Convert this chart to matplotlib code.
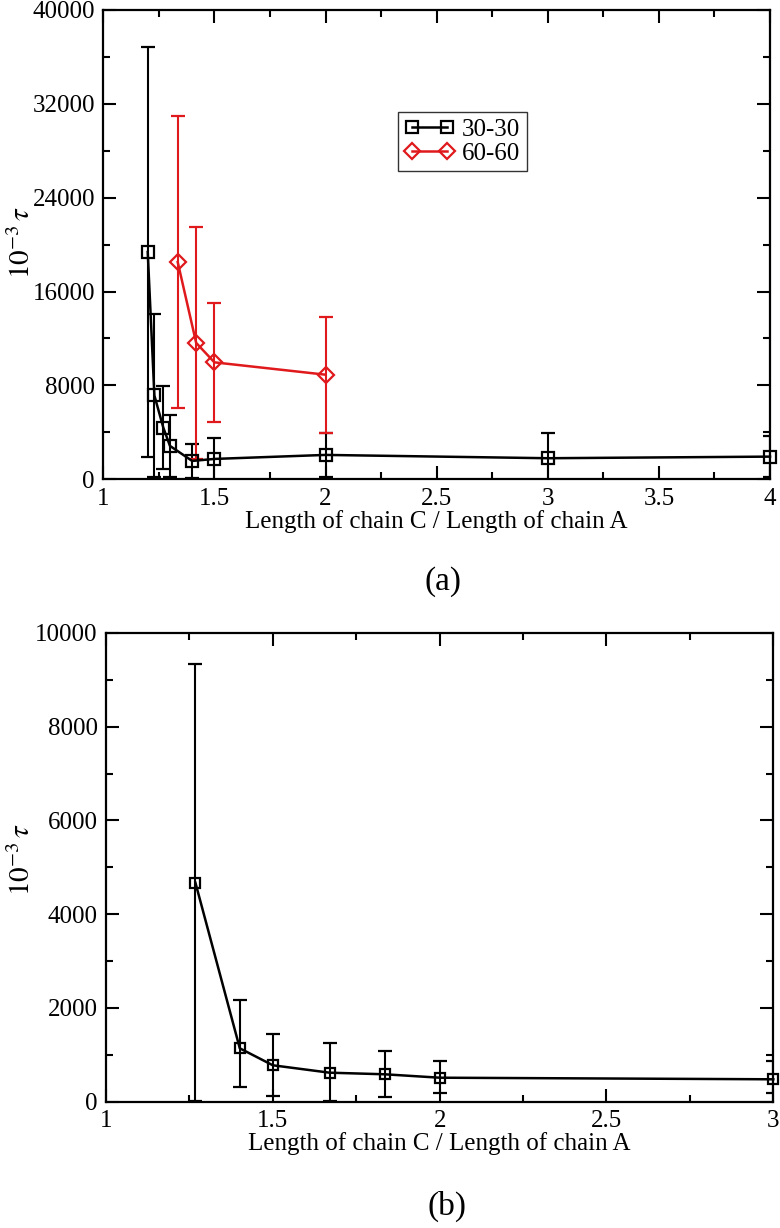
import matplotlib
matplotlib.use("Agg")
import matplotlib.pyplot as plt
from matplotlib.ticker import MultipleLocator, FuncFormatter
from matplotlib.lines import Line2D

# ---------------- data ----------------
# panel (a)
x_a_3030 = [1.2, 1.23, 1.27, 1.3, 1.4, 1.5, 2.0, 3.0, 4.0]
y_a_3030 = [19370, 7145, 4410, 2846, 1564, 1735, 2077, 1795, 1932]
e_a_3030 = [17480, 6965, 3550, 2620, 1430, 1770, 1855, 2137, 1770]

x_a_6060 = [1.335, 1.418, 1.5, 2.0]
y_a_6060 = [18510, 11625, 9966, 8915]
e_a_6060 = [12460, 9900, 5060, 4957]

# panel (b)
x_b = [1.268, 1.401, 1.5, 1.67, 1.835, 2.0, 3.0]
y_b = [4672, 1139, 777, 619, 585, 512, 478]
e_b_low = [4660, 832, 655, 600, 491, 333, 300]
e_b_up = [4660, 1037, 674, 627, 497, 356, 397]

legend_labels = ["30-30", "60-60"]
xlabel = "Length of chain C / Length of chain A"
ylabel = r"$10^{-3}\,\tau$"

# ---------------- style ----------------
plt.rcParams["font.family"] = ["Liberation Serif", "DejaVu Serif"]
plt.rcParams["mathtext.fontset"] = "stix"
RED = "#e0191c"
FS = 18

fig = plt.figure(figsize=(7.8, 12.28), dpi=100)
ax1 = fig.add_axes([0.1324, 0.6097, 0.8548, 0.3822])
ax2 = fig.add_axes([0.1359, 0.10285, 0.8555, 0.3817])

fmt = FuncFormatter(lambda v, p: "%g" % v)


def style(ax):
    for s in ax.spines.values():
        s.set_linewidth(1.6)
    ax.tick_params(which="both", direction="in", top=True, right=True,
                   labelsize=FS, width=1.5, pad=6)
    ax.tick_params(which="major", length=9.5)
    ax.tick_params(which="minor", length=5)
    ax.xaxis.set_major_formatter(fmt)
    ax.yaxis.set_major_formatter(fmt)


def eb(ax, x, y, yerr, color, marker, ms):
    c = ax.errorbar(x, y, yerr=yerr, color=color, marker=marker, ms=ms,
                    mfc="none", mec=color, mew=1.6, lw=1.8, elinewidth=1.5,
                    capsize=5, capthick=1.5)
    c[0].set_clip_on(False)
    return c


# panel (a)
eb(ax1, x_a_3030, y_a_3030, e_a_3030, "black", "s", 8.5)
eb(ax1, x_a_6060, y_a_6060, e_a_6060, RED, "D", 8.5)
ax1.set_xlim(1, 4)
ax1.set_ylim(0, 40000)
ax1.xaxis.set_major_locator(MultipleLocator(0.5))
ax1.xaxis.set_minor_locator(MultipleLocator(0.25))
ax1.yaxis.set_major_locator(MultipleLocator(8000))
ax1.yaxis.set_minor_locator(MultipleLocator(4000))
style(ax1)
ax1.set_xlabel(xlabel, fontsize=FS, labelpad=0)
handles = [
    Line2D([], [], color="black", marker="s", ms=8, mfc="none", mew=1.6, lw=1.8),
    Line2D([], [], color=RED, marker="D", ms=8, mfc="none", mew=1.6, lw=1.8),
]
leg = ax1.legend(handles, legend_labels, loc="upper left",
                 bbox_to_anchor=(0.4425, 0.782),
                 fontsize=FS, numpoints=2, handlelength=2.0,
                 frameon=True, fancybox=False, borderpad=0.25,
                 labelspacing=0.05, handletextpad=0.3, borderaxespad=0)
leg.get_frame().set_edgecolor("black")
leg.get_frame().set_linewidth(1.0)

# panel (b)
eb(ax2, x_b, y_b, [e_b_low, e_b_up], "black", "s", 7.5)
ax2.set_xlim(1, 3)
ax2.set_ylim(0, 10000)
ax2.xaxis.set_major_locator(MultipleLocator(0.5))
ax2.xaxis.set_minor_locator(MultipleLocator(0.25))
ax2.yaxis.set_major_locator(MultipleLocator(2000))
ax2.yaxis.set_minor_locator(MultipleLocator(1000))
style(ax2)
ax2.set_xlabel(xlabel, fontsize=FS, labelpad=0)

# y labels
fig.text(22.5 / 780, 1 - 243 / 1228, ylabel, rotation=90, fontsize=21,
         ha="center", va="center")
fig.text(22.5 / 780, 1 - 860 / 1228, ylabel, rotation=90, fontsize=21,
         ha="center", va="center")

# panel tags
fig.text(443 / 780, 1 - 582 / 1228, "(a)", fontsize=24, ha="center", va="center")
fig.text(447 / 780, 1 - 1206 / 1228, "(b)", fontsize=24, ha="center", va="center")

fig.savefig("out.png", dpi=100)
